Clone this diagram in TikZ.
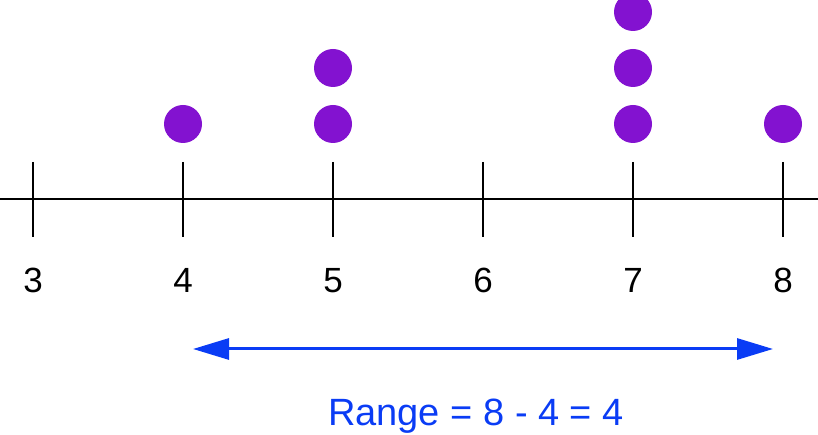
\documentclass[tikz,border=0pt]{standalone}
\usepackage{fontspec}
\setmainfont{Liberation Sans}
\usepackage{tikz}
\usetikzlibrary{positioning, arrows.meta}
\definecolor{dotpurple}{HTML}{8312D0}
\definecolor{rangeblue}{HTML}{0A3CF5}
\tikzset{dot/.style={circle, fill=dotpurple, inner sep=0pt, minimum size=38pt}, numlabel/.style={anchor=base, font=\fontsize{35}{40}\selectfont}}
\tikzset{
    axisline/.style={line width=2pt, black},
    rangearrow/.style={line width=3pt, rangeblue, {Triangle[length=36pt,width=21pt]}-{Triangle[length=36pt,width=21pt]}},
    rangelabel/.style={anchor=base, text=rangeblue, font=\fontsize{38}{44}\selectfont},
}

\begin{document}
\begin{tikzpicture}[x=1pt, y=1pt]
            \useasboundingbox (0,0) rectangle (818,435);
            \coordinate (axisL) at (0,236);
            \coordinate (axisR) at (818,236);
            \draw[axisline](axisL)--(axisR);
            \foreach \v [count=\i from 0] in {3,...,8}{
                \coordinate (top\v) at ({33+150*\i},273);
                \coordinate (bot\v) at ({33+150*\i},198);
                \draw[axisline](top\v)--(bot\v);
                \node[numlabel] (lab\v) at ({33+150*\i},142) {\v};
            }
            \foreach \v/\n in {4/1, 5/1, 5/2, 7/1, 7/2, 7/3, 8/1}
                \node[dot] (dot\v\n) at ({33+150*(\v-3)},{311+56*(\n-1)}) {};
            \coordinate (rangeL) at (193,86);
            \coordinate (rangeR) at (773,86);
            \draw[rangearrow](rangeL)--(rangeR);
            \node[rangelabel] (range) at (476,9) {Range = 8 - 4 = 4};
        \end{tikzpicture}
\end{document}
